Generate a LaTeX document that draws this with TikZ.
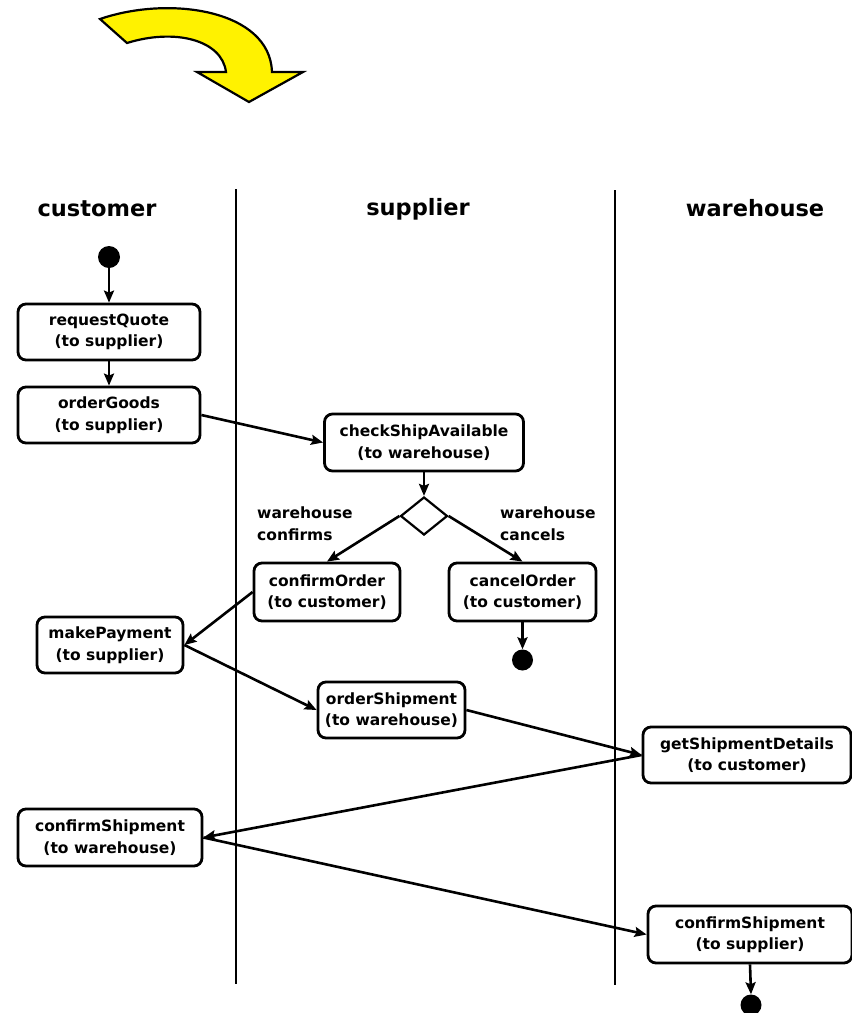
\documentclass[tikz,border=0pt]{standalone}
\usepackage{fontspec}
\setmainfont{DejaVu Sans}
\usetikzlibrary{shapes.geometric,arrows.meta}
\begin{document}
\begin{tikzpicture}[x=1pt,y=-1pt,
  act/.style={draw,line width=2.8pt,rounded corners=8pt,align=center,inner sep=0pt,
    font=\fontsize{15.5}{21.5}\selectfont\bfseries},
  lane/.style={font=\fontsize{22.5}{26}\selectfont\bfseries},
  guard/.style={anchor=west,align=left,inner sep=0pt,font=\fontsize{15.5}{22}\selectfont\bfseries},
  dot/.style={circle,fill=black,inner sep=0pt},
  flow/.style={line width=2.6pt,-{Stealth[length=12pt,width=10pt,inset=2pt]}},
  swim/.style={line width=2.8pt}]
\useasboundingbox (0,0) rectangle (852,1013);
% big yellow arrow
\draw[line width=2.2pt,fill=yellow,line join=miter]
  (100,19) -- (127,43) .. controls (175,28) and (222,40) .. (226,72)
  -- (197,72) -- (249,102) -- (303,72) -- (272,72)
  .. controls (270,10) and (170,-5) .. (100,19) -- cycle;
% swimlanes
\coordinate (l1t) at (236,189); \coordinate (l1b) at (236,984);
\coordinate (l2t) at (615,190); \coordinate (l2b) at (615,985);
\draw[swim] (l1t) -- (l1b);
\draw[swim] (l2t) -- (l2b);
\node[lane] (hc) at (97,209) {customer};
\node[lane] (hs) at (418,209) {supplier};
\node[lane] (hw) at (755,208) {warehouse};
% nodes
\node[dot,minimum size=22pt] (start) at (109,257) {};
\node[act,minimum width=182pt,minimum height=56pt] (rq) at (109,332) {requestQuote\\(to supplier)};
\node[act,minimum width=182pt,minimum height=56pt] (og) at (109,415) {orderGoods\\(to supplier)};
\node[act,minimum width=199pt,minimum height=57pt] (cs) at (424,442.5) {checkShipAvailable\\(to warehouse)};
\node[draw,diamond,line width=2.2pt,minimum width=47pt,minimum height=38pt,inner sep=0pt] (dia) at (424,516) {};
\node[act,minimum width=146pt,minimum height=58pt] (co) at (327,592) {confirmOrder\\(to customer)};
\node[act,minimum width=147pt,minimum height=58pt] (ca) at (522.5,592) {cancelOrder\\(to customer)};
\node[dot,minimum size=21pt] (end1) at (522.5,660) {};
\node[act,minimum width=146pt,minimum height=56pt] (mp) at (110,645) {makePayment\\(to supplier)};
\node[act,minimum width=147pt,minimum height=56pt] (os) at (391.5,710) {orderShipment\\(to warehouse)};
\node[act,minimum width=208pt,minimum height=56pt] (gs) at (747,755) {getShipmentDetails\\(to customer)};
\node[act,minimum width=184pt,minimum height=57pt] (cw) at (110,837.5) {confirmShipment\\(to warehouse)};
\node[act,minimum width=204pt,minimum height=57pt] (cu) at (750,934.5) {confirmShipment\\(to supplier)};
\node[dot,minimum size=21pt] (end2) at (751,1005) {};
% guards
\node[guard] (g1) at (257,524) {warehouse\\confirms};
\node[guard] (g2) at (500,524) {warehouse\\cancels};
% flows
\draw[flow] (start) -- (rq.north);
\draw[flow] (rq.south) -- (og.north);
\draw[flow] (og.east) -- (cs.west);
\draw[flow] (cs.south) -- (dia.north);
\draw[flow] (dia.west) -- (co.north);
\draw[flow] (dia.east) -- (ca.north);
\draw[flow] (ca.south) -- (end1.north);
\draw[flow] (co.west) -- (mp.east);
\draw[flow] (mp.east) -- (os.west);
\draw[flow] (os.east) -- (gs.west);
\draw[flow] (gs.west) -- (cw.east);
\draw[flow] (cw.east) -- (cu.west);
\draw[flow] (cu.south) -- (end2.north);
\end{tikzpicture}
\end{document}
